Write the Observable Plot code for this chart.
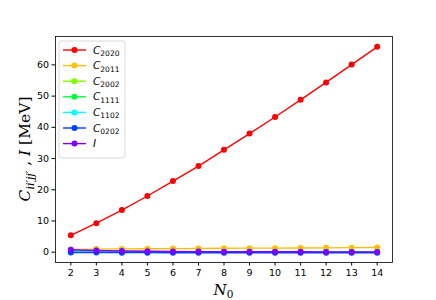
<!DOCTYPE html>
<html>
<head>
<meta charset="utf-8">
<script src="https://cdn.jsdelivr.net/npm/d3@7"></script>
<script src="https://cdn.jsdelivr.net/npm/@observablehq/plot@0.6"></script>
<style>
  html, body { margin: 0; padding: 0; background: #fff; }
  #chart svg { display: block; }
</style>
</head>
<body>
<div id="chart"></div>
<script>
const N0 = [2, 3, 4, 5, 6, 7, 8, 9, 10, 11, 12, 13, 14];
const C2020 = [5.4, 9.3, 13.5, 18.0, 22.8, 27.6, 32.8, 38.0, 43.3, 48.8, 54.4, 60.1, 65.8];
const C2011 = [0.9, 1.0, 1.05, 1.1, 1.15, 1.2, 1.25, 1.3, 1.3, 1.35, 1.4, 1.45, 1.5];
const C2002 = [0.5, 0.35, 0.3, 0.25, 0.2, 0.2, 0.18, 0.16, 0.15, 0.14, 0.13, 0.12, 0.12];
const C1111 = [0.3, 0.2, 0.15, 0.12, 0.1, 0.1, 0.08, 0.08, 0.07, 0.07, 0.06, 0.06, 0.06];
const C1102 = [0.1, 0.05, 0.04, 0.03, 0.02, 0.02, 0.01, 0.01, 0.01, 0.0, 0.0, 0.0, 0.0];
const C0202 = [-0.1, -0.12, -0.14, -0.15, -0.16, -0.17, -0.17, -0.18, -0.18, -0.19, -0.19, -0.2, -0.2];
const I = [0.8, 0.55, 0.4, 0.3, 0.25, 0.2, 0.18, 0.15, 0.13, 0.12, 0.1, 0.1, 0.1];

const seriesNames = ["C2020", "C2011", "C2002", "C1111", "C1102", "C0202", "I"];
const seriesMain = ["C", "C", "C", "C", "C", "C", "I"];
const seriesSub = ["2020", "2011", "2002", "1111", "1102", "0202", ""];
const seriesValues = [C2020, C2011, C2002, C1111, C1102, C0202, I];
const colors = ["#ff0000", "#ffbf00", "#80ff00", "#00ff40", "#00ffff", "#0040ff", "#8000ff"];
const yTicks = [0, 10, 20, 30, 40, 50, 60];
const xTicks = N0;

const rows = [];
seriesNames.forEach((s, i) => {
  N0.forEach((n, j) => rows.push({series: s, n, v: seriesValues[i][j]}));
});

const W = 436, H = 300;
const mL = 55, mR = 44, mT = 36, mB = 38;

const marks = [];
seriesNames.forEach((s, i) => {
  const d = rows.filter(r => r.series === s);
  marks.push(Plot.line(d, {x: "n", y: "v", stroke: colors[i], strokeWidth: 1.4}));
  marks.push(Plot.dot(d, {x: "n", y: "v", fill: colors[i], r: 3, stroke: "none"}));
});

const chart = Plot.plot({
  width: W,
  height: H,
  marginLeft: mL,
  marginRight: mR,
  marginTop: mT,
  marginBottom: mB,
  style: {fontFamily: "DejaVu Sans", fontSize: "9.5px", color: "#000", background: "#fff"},
  x: {domain: [1.4, 14.6], label: null},
  y: {domain: [-3.3, 69.1], label: null},
  marks: [
    ...marks,
    Plot.axisX({ticks: xTicks, tickSize: 3.5, tickPadding: 3, tickFormat: d => String(d), label: null, stroke: "#000"}),
    Plot.axisY({ticks: yTicks, tickSize: 3.5, tickPadding: 3, tickFormat: d => String(d), label: null, stroke: "#000"}),
    Plot.frame({stroke: "#000", strokeWidth: 0.8})
  ]
});

document.getElementById("chart").appendChild(chart);

const svg = d3.select(chart);

// Legend
const lx = 59, ly = 41, lw = 66, lh = 117, step = 15.6;
const lg = svg.append("g").attr("text-anchor", "start");
lg.append("rect").attr("x", lx).attr("y", ly).attr("width", lw).attr("height", lh)
  .attr("rx", 2).attr("fill", "#fff").attr("fill-opacity", 0.8)
  .attr("stroke", "#d0d0d0").attr("stroke-width", 0.8);
seriesNames.forEach((s, i) => {
  const cy = ly + 9 + i * step;
  lg.append("line").attr("x1", lx + 4).attr("x2", lx + 27).attr("y1", cy).attr("y2", cy)
    .attr("stroke", colors[i]).attr("stroke-width", 1.4);
  lg.append("circle").attr("cx", lx + 15.5).attr("cy", cy).attr("r", 3).attr("fill", colors[i]);
  const t = lg.append("text").attr("x", lx + 34).attr("y", cy + 3.5).attr("text-anchor", "start")
    .attr("font-family", "DejaVu Sans").attr("font-size", 10.5).attr("fill", "#000");
  t.append("tspan").attr("font-style", "italic").text(seriesMain[i]);
  if (seriesSub[i]) t.append("tspan").attr("dy", 2.5).attr("font-size", 7.5).text(seriesSub[i]);
});

// X label
const xl = svg.append("text").attr("x", (mL + W - mR) / 2).attr("y", 295)
  .attr("text-anchor", "middle").attr("font-family", "DejaVu Serif").attr("font-size", 15).attr("fill", "#000");
xl.append("tspan").attr("font-style", "italic").text("N");
xl.append("tspan").attr("dy", 3).attr("font-size", 10.5).text("0");

// Y label
const yl = svg.append("text")
  .attr("transform", `translate(30,149) rotate(-90)`)
  .attr("text-anchor", "middle").attr("font-family", "DejaVu Serif").attr("font-size", 15.5).attr("fill", "#000");
yl.append("tspan").attr("font-style", "italic").text("C");
yl.append("tspan").attr("font-style", "italic").attr("dy", 3.5).attr("font-size", 11).text("ii′jj′");
yl.append("tspan").attr("dy", -3.5).text(" , ");
yl.append("tspan").attr("font-style", "italic").text("I");
yl.append("tspan").text(" [MeV]");
</script>
</body>
</html>
